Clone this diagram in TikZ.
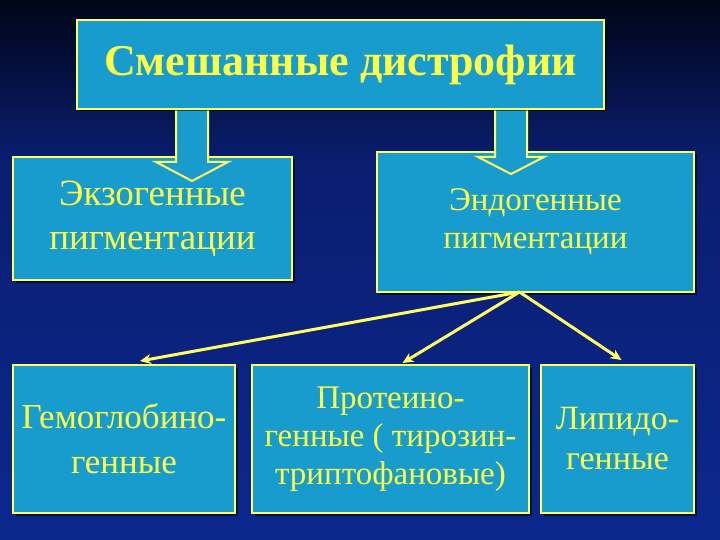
\documentclass[tikz,border=0pt]{standalone}
\usepackage{fontspec}
\setmainfont{Liberation Serif}
\usetikzlibrary{calc,shadows,arrows.meta}
\definecolor{bgtop}{RGB}{0,5,24}
\definecolor{bgmid}{RGB}{10,30,112}
\definecolor{bgbot}{RGB}{12,40,142}
\definecolor{boxfill}{RGB}{24,155,205}
\definecolor{edgeyel}{RGB}{255,255,100}
\definecolor{textyel}{RGB}{255,255,70}
\pgfdeclareverticalshading{slidebg}{100bp}{color(0bp)=(bgbot); color(25bp)=(bgbot); color(60bp)=(bgmid); color(75bp)=(bgtop); color(100bp)=(bgtop)}
\tikzset{
  box/.style={draw=edgeyel, line width=2pt, fill=boxfill, text=textyel, align=center,
    inner sep=0pt, outer sep=0pt,
    drop shadow={shadow xshift=2.5pt, shadow yshift=-2.5pt, opacity=0.55, fill=black}},
  blockarrow/.style={draw=edgeyel, line width=2pt, fill=boxfill, line join=miter},
  conn/.style={draw=edgeyel, line width=3pt, -{Stealth[length=11pt,width=10pt]}}
}
\begin{document}
\begin{tikzpicture}[x=1pt,y=-1pt]
\useasboundingbox (0,0) rectangle (720,540);
\shade[shading=slidebg] (0,0) rectangle (720,540);
% second row
\node[box, minimum width=279pt, minimum height=123pt,
  font=\fontsize{37}{44}\selectfont] (exo) at (152.5,218.5) {Экзогенные\\пигментации};
\node[box, minimum width=317pt, minimum height=140pt,
  font=\fontsize{33}{38}\selectfont] (endo) at (535.5,222) {Эндогенные\\пигментации};
% bottom row
\node[box, minimum width=222pt, minimum height=148pt,
  font=\fontsize{35}{45}\selectfont] (hemo) at (124,439) {Гемоглобино-\\генные};
\node[box, minimum width=277pt, minimum height=148pt,
  font=\fontsize{33}{38}\selectfont] (prot) at (390.5,439) {Протеино-\\генные ( тирозин-\\триптофановые)};
\node[box, minimum width=153pt, minimum height=148pt,
  font=\fontsize{34}{40}\selectfont] (lip) at (617.5,439) {Липидо-\\генные};
% block arrows
\draw[blockarrow] (176,100) -- (176,162) -- (156,162) -- (192,181) -- (228,162) -- (208,162) -- (208,100);
\draw[blockarrow] (495,100) -- (495,157) -- (478,157) -- (511,174) -- (544,157) -- (527,157) -- (527,100);
% top box
\node[box, minimum width=527pt, minimum height=89pt,
  font=\fontsize{44}{48}\selectfont\bfseries] (top) at (340.5,64.5) {Смешанные дистрофии};
% connectors
\coordinate (src) at ($(endo.south)+(-16,0)$);
\draw[conn] (src) -- ($(hemo.north)+(16,-4)$);
\draw[conn] (src) -- ($(prot.north)+(12,-2)$);
\draw[conn] (src) -- ($(lip.north)+(4,-5)$);
\end{tikzpicture}
\end{document}
